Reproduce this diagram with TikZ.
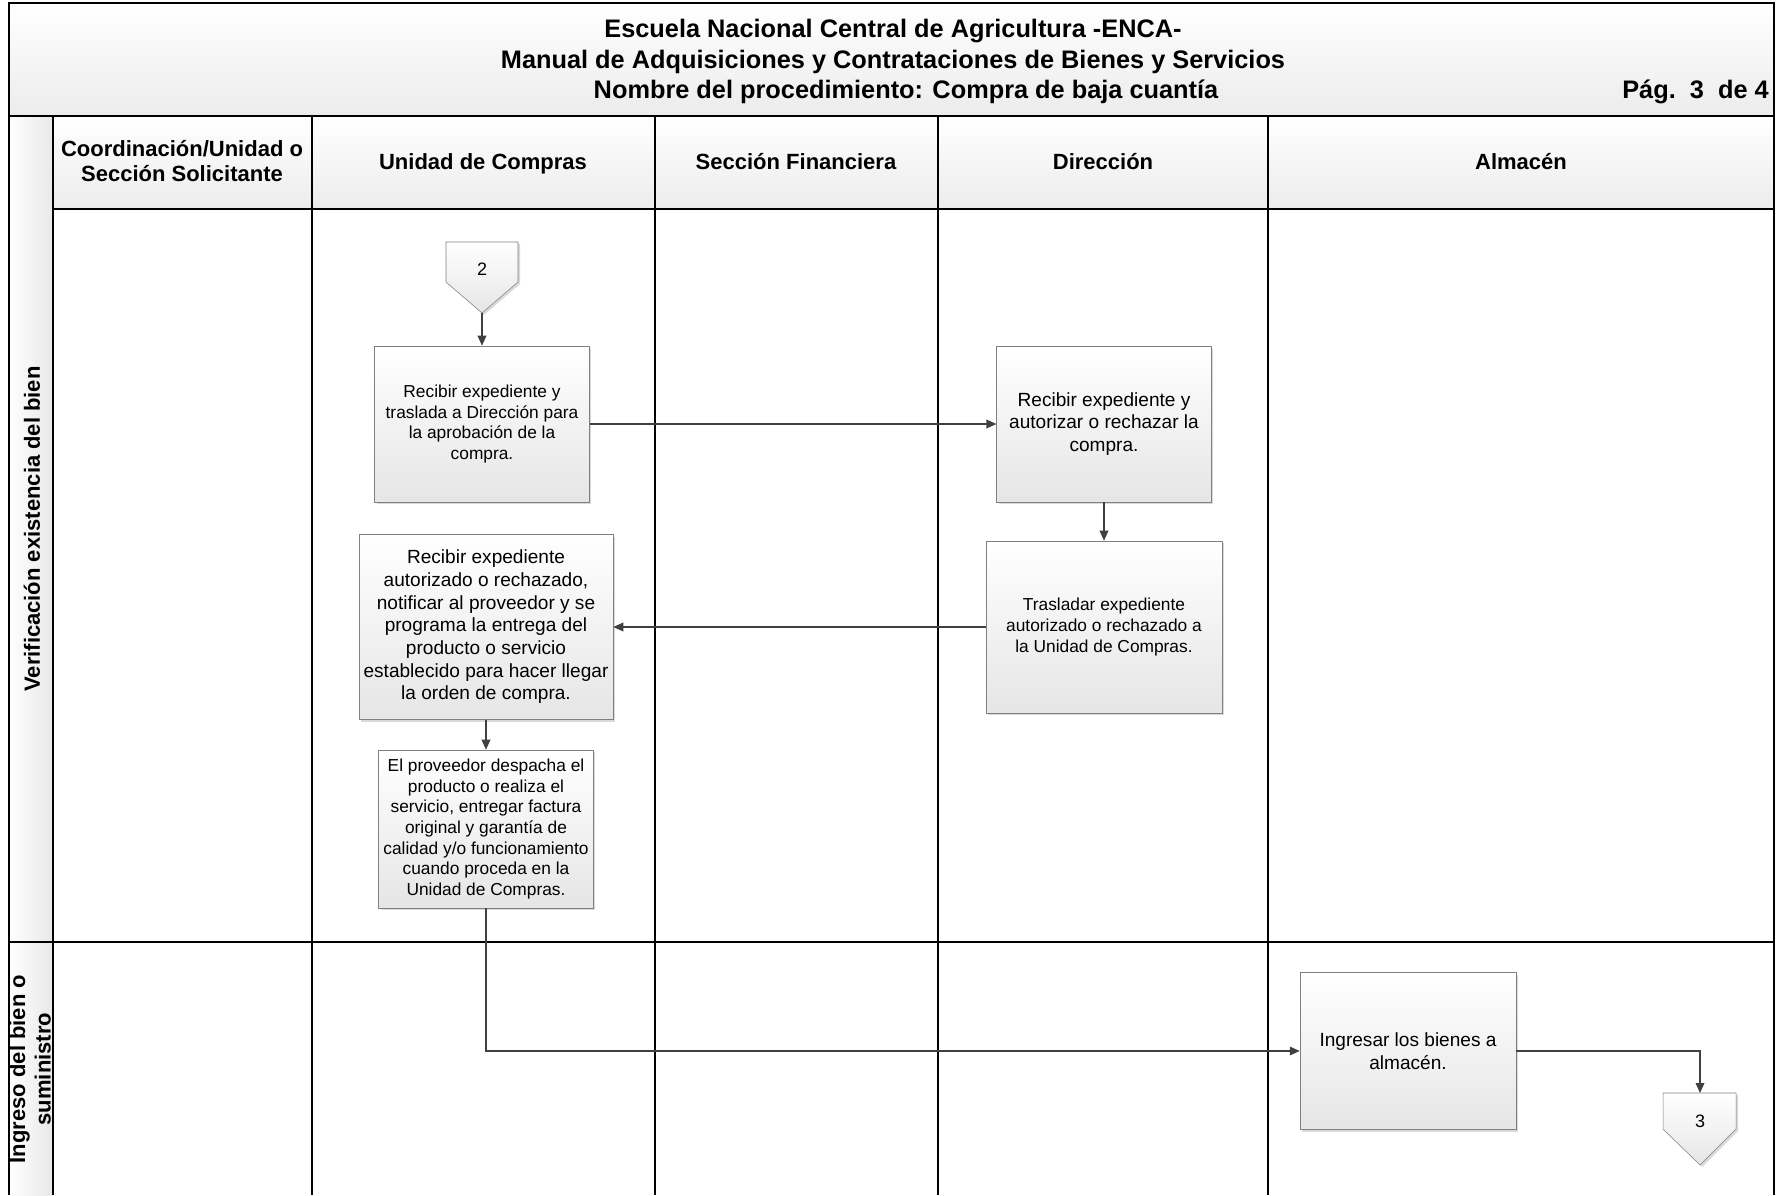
\documentclass[tikz,border=0pt]{standalone}
\usepackage{fontspec}
\setmainfont{Liberation Sans}
\usetikzlibrary{arrows.meta,shadows}

\begin{document}
\begin{tikzpicture}[x=0.75pt,y=-0.75pt]
      \tikzstyle{every node}+=[inner sep=0pt]
      \tikzstyle{grid}=[black,line width=1pt]
      \tikzstyle{titletext}=[font=\bfseries\fontsize{19}{23}\selectfont]
      \tikzstyle{lanehead}=[font=\bfseries\fontsize{16.5}{19}\selectfont,align=center]
      \tikzstyle{boxshadow}=[drop shadow={shadow xshift=1.5pt,shadow yshift=-1.5pt,opacity=0.3}]
      \tikzstyle{stepbox}=[draw=gray,top color=white,bottom color=gray!20,boxshadow,align=center,font=\fontsize{13}{15.5}\selectfont]
      \tikzstyle{bigtext}=[font=\fontsize{14.3}{17}\selectfont]
      \tikzstyle{offpage}=[draw=gray,top color=white,bottom color=gray!20,boxshadow]
      \tikzstyle{flow}=[draw=black!75,line width=1pt,-{Triangle[length=7.5pt,width=6.5pt]}]
      \useasboundingbox (0,0) rectangle (1780,1195);
      \shade[top color=white,bottom color=gray!15] (9,3) rectangle (1774,116);
      \shade[top color=white,bottom color=gray!15] (53,116) rectangle (1774,209);
      \shade[left color=white,right color=gray!18] (9,116) rectangle (53,1195);
      \draw[grid] (9,1195) -- (9,3) -- (1774,3) -- (1774,1195);
      \draw[grid] (9,116) -- (1774,116);
      \draw[grid] (53,209) -- (1774,209);
      \draw[grid] (9,942) -- (1774,942);
      \draw[grid] (53,116) -- (53,1195);
      \foreach \x in {312,655,938,1268} \draw[grid] (\x,116) -- (\x,1195);
      \node[titletext] (title1) at (893,31) {Escuela Nacional Central de Agricultura -ENCA-};
      \node[titletext] (title2) at (893,62) {Manual de Adquisiciones y Contrataciones de Bienes y Servicios};
      \node[titletext] (title3) at (906,92) {Nombre del procedimiento: Compra de baja cuantía};
      \node[titletext,anchor=east] (page) at (1769,92) {Pág.\ \ 3\ \ de 4};
      \node[lanehead,rotate=90] (lane1) at (32,529) {Verificación existencia del bien};
      \node[lanehead,rotate=90] (lane2) at (30,1069) {Ingreso del bien o\\suministro};
      \node[lanehead] (col1) at (182,161) {Coordinación/Unidad o\\Sección Solicitante};
      \node[lanehead] (col2) at (483,164) {Unidad de Compras};
      \node[lanehead] (col3) at (796,162) {Sección Financiera};
      \node[lanehead] (col4) at (1103,162) {Dirección};
      \node[lanehead] (col5) at (1521,162) {Almacén};
      \path[offpage] (446,242) -- (518,242) -- (518,282) -- (482,313) -- (446,282) -- cycle;
      \coordinate (c2tip) at (482,313);
      \node[font=\fontsize{13.5}{16}\selectfont] (c2) at (482,269) {2};
      \path[offpage] (1663,1093) -- (1736,1093) -- (1736,1129) -- (1700,1165) -- (1663,1129) -- cycle;
      \coordinate (c3top) at (1700,1093);
      \node[font=\fontsize{13.5}{16}\selectfont] (c3) at (1700,1121) {3};
      \node[stepbox,minimum width=161pt,minimum height=117pt] (A) at (482,424) {Recibir expediente y\\traslada a Dirección para\\la aprobación de la\\compra.};
      \node[stepbox,bigtext,minimum width=161pt,minimum height=117pt] (B) at (1104,424) {Recibir expediente y\\autorizar o rechazar la\\compra.};
      \node[stepbox,minimum width=177pt,minimum height=129pt] (C) at (1104,627) {Trasladar expediente\\autorizado o rechazado a\\la Unidad de Compras.};
      \node[stepbox,font=\fontsize{14.3}{17}\selectfont,minimum width=190.5pt,minimum height=138.75pt] (D) at (486,627) {Recibir expediente\\autorizado o rechazado,\\notificar al proveedor y se\\programa la entrega del\\producto o servicio\\establecido para hacer llegar\\la orden de compra.};
      \node[stepbox,minimum width=161pt,minimum height=118.5pt] (E) at (486,829) {El proveedor despacha el\\producto o realiza el\\servicio, entregar factura\\original y garantía de\\calidad y/o funcionamiento\\cuando proceda en la\\Unidad de Compras.};
      \node[stepbox,bigtext,minimum width=162pt,minimum height=117.75pt] (F) at (1408,1051) {Ingresar los bienes a\\almacén.};
      \draw[flow] (c2tip) -- (A);
      \draw[flow] (A) -- (B);
      \draw[flow] (B) -- (C);
      \draw[flow] (C) -- (D);
      \draw[flow] (D) -- (E);
      \draw[flow] (E.south) |- (F.west);
      \draw[flow] (F.east) -| (c3top);
\end{tikzpicture}
\end{document}
